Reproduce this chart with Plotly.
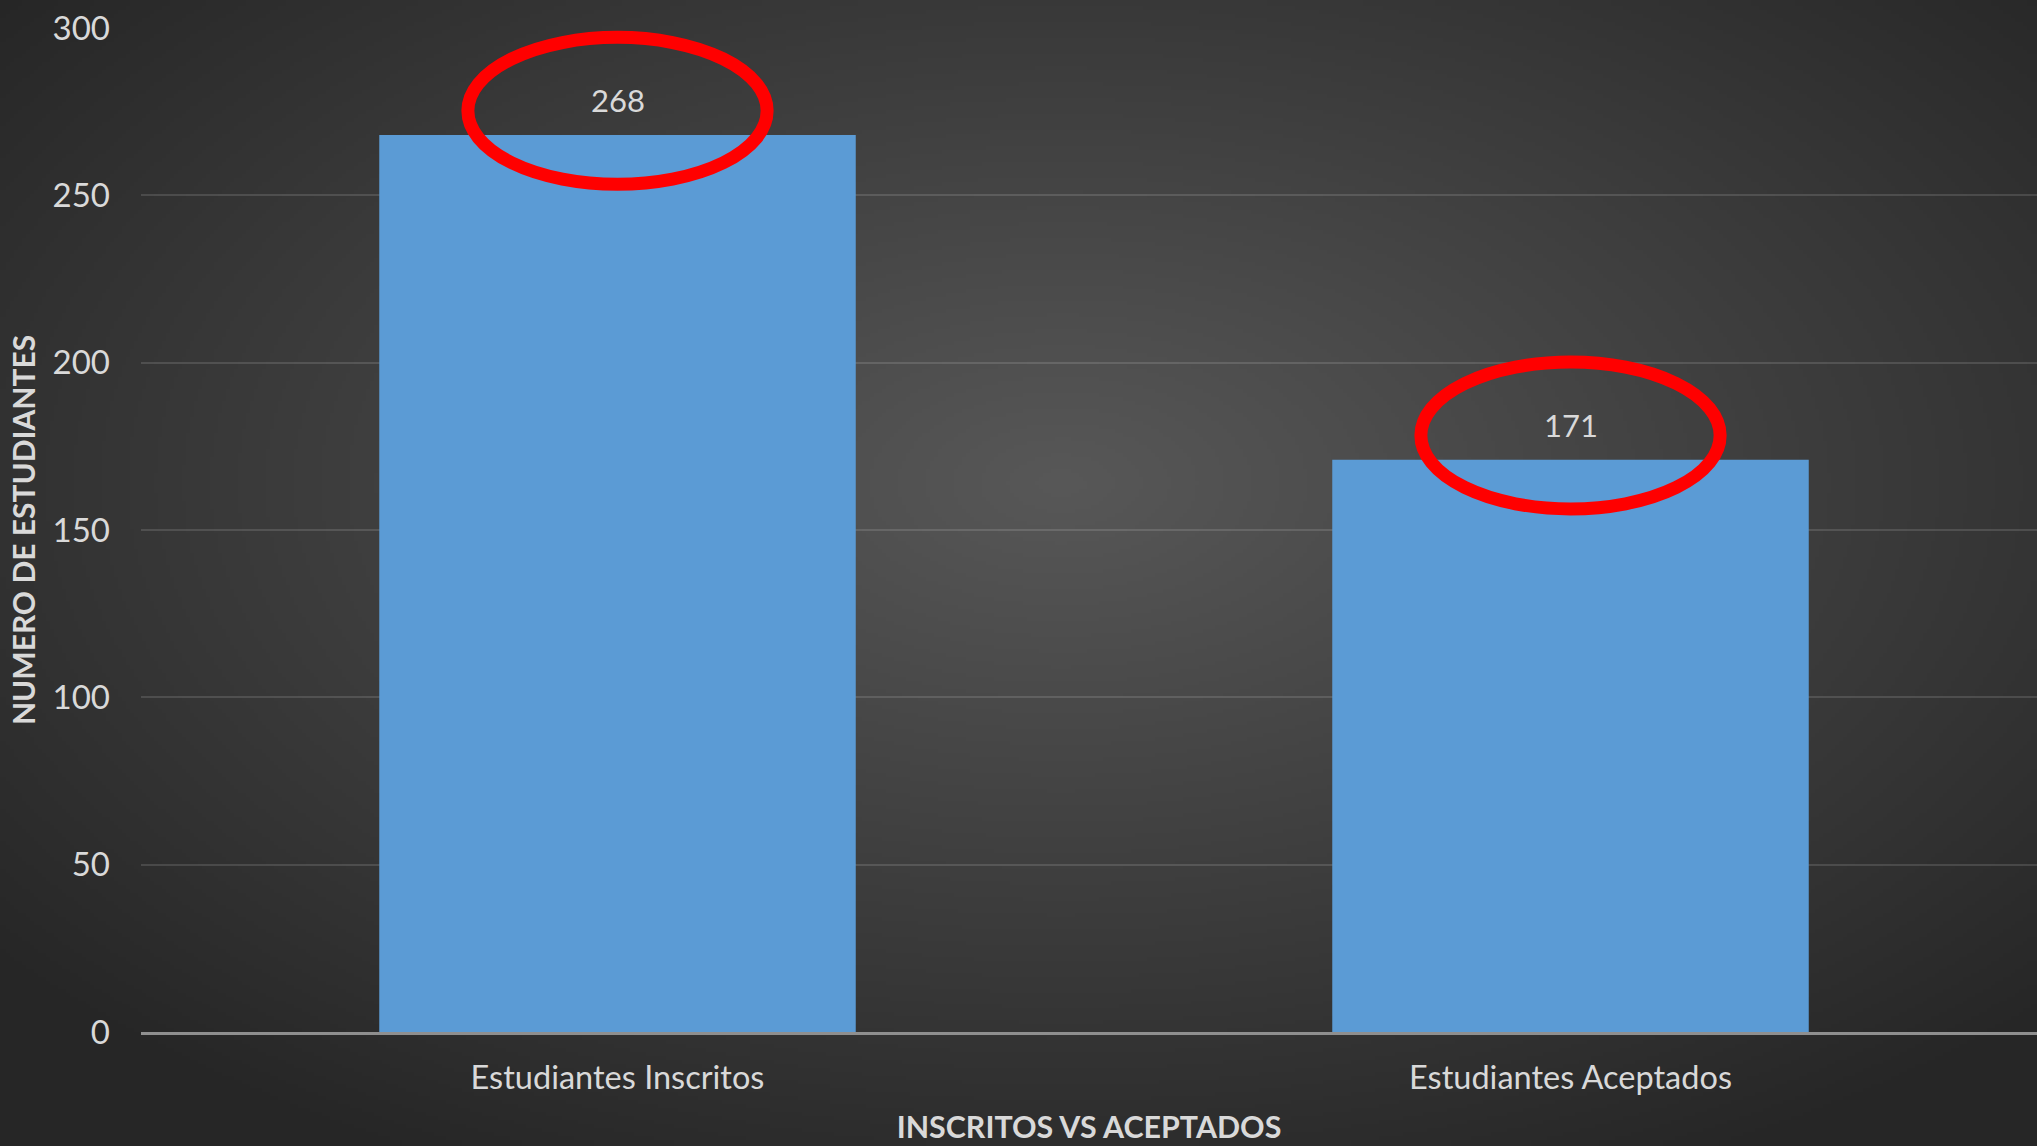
import base64
import struct
import zlib

import numpy as np
import plotly.graph_objects as go

# datos del grafico
categorias = ["Estudiantes Inscritos", "Estudiantes Aceptados"]
estudiantes = [268, 171]
ticks_y = [0, 50, 100, 150, 200, 250, 300]

ANCHO, ALTO = 2037, 1146
TEXTO = "#d9d9d9"
FUENTE = "Lato"


def fondo_radial(w=509, h=287, centro="#585858", borde="#262626"):
    """PNG con degradado radial (fondo tipo Excel)"""
    c0 = np.array([int(centro[i:i + 2], 16) for i in (1, 3, 5)], float)
    c1 = np.array([int(borde[i:i + 2], 16) for i in (1, 3, 5)], float)
    yy, xx = np.mgrid[0:h, 0:w]
    dx = (xx - w * 0.52) / (w / 2)
    dy = (yy - h * 0.42) / (h / 2)
    t = np.clip(np.sqrt(dx ** 2 + dy ** 2) / 1.35, 0, 1)
    img = (c0 + (c1 - c0) * t[..., None]).astype(np.uint8)
    raw = b"".join(b"\x00" + img[r].tobytes() for r in range(h))

    def chunk(tag, data):
        return (struct.pack(">I", len(data)) + tag + data
                + struct.pack(">I", zlib.crc32(tag + data) & 0xffffffff))

    png = (b"\x89PNG\r\n\x1a\n"
           + chunk(b"IHDR", struct.pack(">IIBBBBB", w, h, 8, 2, 0, 0, 0))
           + chunk(b"IDAT", zlib.compress(raw, 9))
           + chunk(b"IEND", b""))
    return "data:image/png;base64," + base64.b64encode(png).decode()


fig = go.Figure()

fig.add_trace(go.Bar(
    x=categorias,
    y=estudiantes,
    width=0.5,
    marker=dict(color="#5b9bd5", line=dict(width=0)),
    hoverinfo="x+y",
))

# etiquetas de valor sobre cada barra + circulo rojo
for i, (cat, v) in enumerate(zip(categorias, estudiantes)):
    fig.add_annotation(
        x=cat, y=v, text=str(v), showarrow=False,
        yanchor="middle", yshift=35,
        font=dict(family=FUENTE, size=31, color=TEXTO),
    )
    fig.add_shape(
        type="circle", xref="x", yref="y",
        x0=i - 0.157, x1=i + 0.157, y0=v - 14.7, y1=v + 29.2,
        line=dict(color="#ff0000", width=13), layer="above",
    )

fig.add_layout_image(
    source=fondo_radial(), xref="paper", yref="paper",
    x=-141 / (ANCHO - 141), y=1 + 28 / 1004,
    sizex=ANCHO / (ANCHO - 141), sizey=ALTO / 1004,
    xanchor="left", yanchor="top", sizing="stretch", layer="below",
)

fig.update_layout(
    width=ANCHO, height=ALTO,
    margin=dict(l=141, r=0, t=28, b=114),
    paper_bgcolor="#3a3a3a",
    plot_bgcolor="rgba(0,0,0,0)",
    showlegend=False,
    font=dict(family=FUENTE, color=TEXTO),
)

fig.update_xaxes(
    range=[-0.5, 1.4895],
    showgrid=False,
    showline=True, linecolor="#8f8f8f", linewidth=2.5,
    ticks="", ticklabelstandoff=15,
    tickfont=dict(family=FUENTE, size=32.5, color=TEXTO),
    title=dict(text="<b>INSCRITOS VS ACEPTADOS</b>", standoff=22,
               font=dict(family=FUENTE, size=30.4, color=TEXTO)),
)

fig.update_yaxes(
    range=[0, 300],
    tickvals=ticks_y,
    showgrid=True, gridcolor="rgba(255,255,255,0.13)", gridwidth=2,
    zeroline=False, showline=False,
    ticks="", ticklabelstandoff=30,
    tickfont=dict(family=FUENTE, size=33, color=TEXTO),
    title=dict(text="<b>NUMERO DE ESTUDIANTES</b>", standoff=8,
               font=dict(family=FUENTE, size=30, color=TEXTO)),
)

fig.write_html(
    "out.html",
    config={"displayModeBar": False},
    post_script="document.body.style.margin='0';document.body.style.overflow='hidden';",
)
